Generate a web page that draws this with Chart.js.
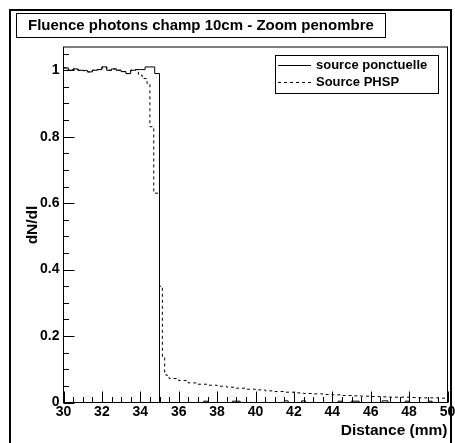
<!DOCTYPE html>
<html>
<head>
<meta charset="utf-8">
<script src="https://cdn.jsdelivr.net/npm/chart.js@4.4.1/dist/chart.umd.min.js"></script>
<style>
  body { margin: 0; background: #fff; }
  canvas { display: block; }
</style>
</head>
<body>
<canvas id="myChart" width="455" height="443"></canvas>
<script>
// histogram left bin edges (mm) and contents
const ponctuelleX = [30.0, 30.25, 30.5, 30.75, 31.0, 31.25, 31.5, 31.75, 32.0, 32.25, 32.5, 32.75,
    33.0, 33.25, 33.5, 33.75, 34.0, 34.25, 34.5, 34.75, 35.0, 37.3, 37.5, 38.8, 39.2, 41.5, 41.7,
    42.4, 42.6, 44.3, 44.5, 45.0, 45.4, 46.6, 46.9, 47.8, 48.0, 49.0, 49.2, 50.0];
const ponctuelleY = [1.007, 1.0, 1.004, 1.0, 0.999, 0.995, 1.0, 1.002, 1.01, 1.0, 1.004, 1.0,
    0.996, 0.99, 1.0, 1.002, 1.002, 1.01, 1.01, 0.99, 0, 0.004, 0, 0.004, 0, 0.005, 0,
    0.005, 0, 0.004, 0, 0.004, 0, 0.005, 0, 0.004, 0, 0.004, 0, 0];

const phspX = [30.0, 30.25, 30.5, 30.75, 31.0, 31.25, 31.5, 31.75, 32.0, 32.25, 32.5, 32.75,
    33.0, 33.25, 33.5, 33.75, 33.9, 34.1, 34.35, 34.5, 34.7, 35.0, 35.15, 35.27, 35.4,
    35.5, 36.0, 36.5, 37.0, 37.5, 38.0, 38.5, 39.0, 39.5, 40.0, 40.5, 41.0, 41.5, 42.0, 42.5,
    43.0, 43.5, 44.0, 44.5, 45.0, 45.5, 46.0, 46.5, 47.0, 47.5, 48.0, 48.5, 49.0, 49.5, 50.0];
const phspY = [1.007, 1.0, 1.004, 1.0, 0.999, 0.995, 1.0, 1.002, 1.01, 1.0, 1.004, 1.0,
    0.996, 0.99, 1.0, 1.002, 0.985, 0.975, 0.96, 0.83, 0.63, 0.35, 0.137, 0.083, 0.076,
    0.072, 0.066, 0.059, 0.055, 0.052, 0.049, 0.046, 0.043, 0.040, 0.038, 0.035, 0.033, 0.031, 0.029, 0.027,
    0.026, 0.024, 0.023, 0.021, 0.020, 0.019, 0.018, 0.017, 0.016, 0.016, 0.015, 0.014, 0.014, 0.013, 0.013];

const xTicks = [30, 32, 34, 36, 38, 40, 42, 44, 46, 48, 50];
const yTicks = [0, 0.2, 0.4, 0.6, 0.8, 1];
const yTickLabels = ['0', '0.2', '0.4', '0.6', '0.8', '1'];

const titleText = 'Fluence photons champ 10cm - Zoom penombre';
const legendLabels = ['source ponctuelle', 'Source PHSP'];

const FAMILY = '"Liberation Sans", Arial, sans-serif';

const rootDecor = {
    id: 'rootDecor',
    afterDraw(chart) {
        const ctx = chart.ctx;
        const a = chart.chartArea;
        const xs = chart.scales.x, ys = chart.scales.y;
        ctx.save();
        ctx.strokeStyle = '#000';
        ctx.fillStyle = '#000';

        // canvas border
        ctx.lineWidth = 2;
        ctx.strokeRect(10, 10, 441, 450);

        // frame
        ctx.lineWidth = 1;
        ctx.strokeRect(a.left, a.top, a.right - a.left, a.bottom - a.top);

        // x ticks (inside)
        ctx.beginPath();
        for (let v = 30; v <= 50.001; v += 0.5) {
            const px = Math.round(xs.getPixelForValue(v)) + 0.5;
            const len = (Math.abs(v / 2 - Math.round(v / 2)) < 1e-6) ? 11 : 5.5;
            ctx.moveTo(px, a.bottom);
            ctx.lineTo(px, a.bottom - len);
        }
        // y ticks (inside)
        for (let v = 0; v <= 1.0501; v += 0.05) {
            const py = Math.round(ys.getPixelForValue(v)) + 0.5;
            const major = Math.abs(v / 0.2 - Math.round(v / 0.2)) < 1e-6;
            ctx.moveTo(a.left, py);
            ctx.lineTo(a.left + (major ? 11 : 5.5), py);
        }
        ctx.stroke();

        // tick labels
        ctx.font = 'bold 14px ' + FAMILY;
        ctx.textAlign = 'center';
        ctx.textBaseline = 'top';
        xTicks.forEach(v => ctx.fillText(String(v), xs.getPixelForValue(v), a.bottom + 3));
        ctx.textAlign = 'right';
        ctx.textBaseline = 'middle';
        yTicks.forEach((v, i) => ctx.fillText(yTickLabels[i], a.left - 4, ys.getPixelForValue(v)));

        // axis titles
        ctx.font = 'bold 15.5px ' + FAMILY;
        ctx.textAlign = 'right';
        ctx.textBaseline = 'middle';
        ctx.fillText('Distance (mm)', a.right, 431);
        ctx.save();
        ctx.translate(33, 225);
        ctx.rotate(-Math.PI / 2);
        ctx.textAlign = 'center';
        ctx.fillText('dN/dl', 0, 0);
        ctx.restore();

        // title box
        ctx.fillStyle = '#fff';
        ctx.fillRect(16.5, 13.5, 369, 24);
        ctx.strokeRect(16.5, 13.5, 369, 24);
        ctx.fillStyle = '#000';
        ctx.font = 'bold 15px ' + FAMILY;
        ctx.textAlign = 'left';
        ctx.fillText(titleText, 28, 26);

        // legend
        ctx.fillStyle = '#fff';
        ctx.fillRect(275.5, 55.5, 163, 38);
        ctx.strokeRect(275.5, 55.5, 163, 38);
        ctx.fillStyle = '#000';
        ctx.font = 'bold 13px ' + FAMILY;
        const rows = [65.5, 82.5];
        rows.forEach((y, i) => {
            ctx.beginPath();
            ctx.setLineDash(i === 0 ? [] : [3, 3]);
            ctx.moveTo(278, y);
            ctx.lineTo(311, y);
            ctx.stroke();
            ctx.setLineDash([]);
            ctx.fillText(legendLabels[i], 316, y);
        });
        ctx.restore();
    }
};

const toPoints = (xs, ys) => xs.map((x, i) => ({ x: x, y: ys[i] }));

const ctx = document.getElementById('myChart').getContext('2d');
const myChart = new Chart(ctx, {
    type: 'line',
    data: {
        datasets: [{
            label: legendLabels[0],
            data: toPoints(ponctuelleX, ponctuelleY),
            borderColor: '#000',
            borderWidth: 1,
            stepped: 'before',
            pointRadius: 0,
            fill: false
        }, {
            label: legendLabels[1],
            data: toPoints(phspX, phspY),
            borderColor: '#000',
            borderWidth: 1,
            borderDash: [3, 3],
            stepped: 'before',
            pointRadius: 0,
            fill: false
        }]
    },
    options: {
        responsive: false,
        animation: false,
        devicePixelRatio: 1,
        layout: { padding: { left: 63.5, top: 47, right: 7.5, bottom: 40.5 } },
        plugins: {
            legend: { display: false },
            title: { display: false },
            tooltip: { enabled: false }
        },
        scales: {
            x: { type: 'linear', min: 30, max: 50, display: false },
            y: { type: 'linear', min: 0, max: 1.07, display: false }
        }
    },
    plugins: [rootDecor]
});
</script>
</body>
</html>
